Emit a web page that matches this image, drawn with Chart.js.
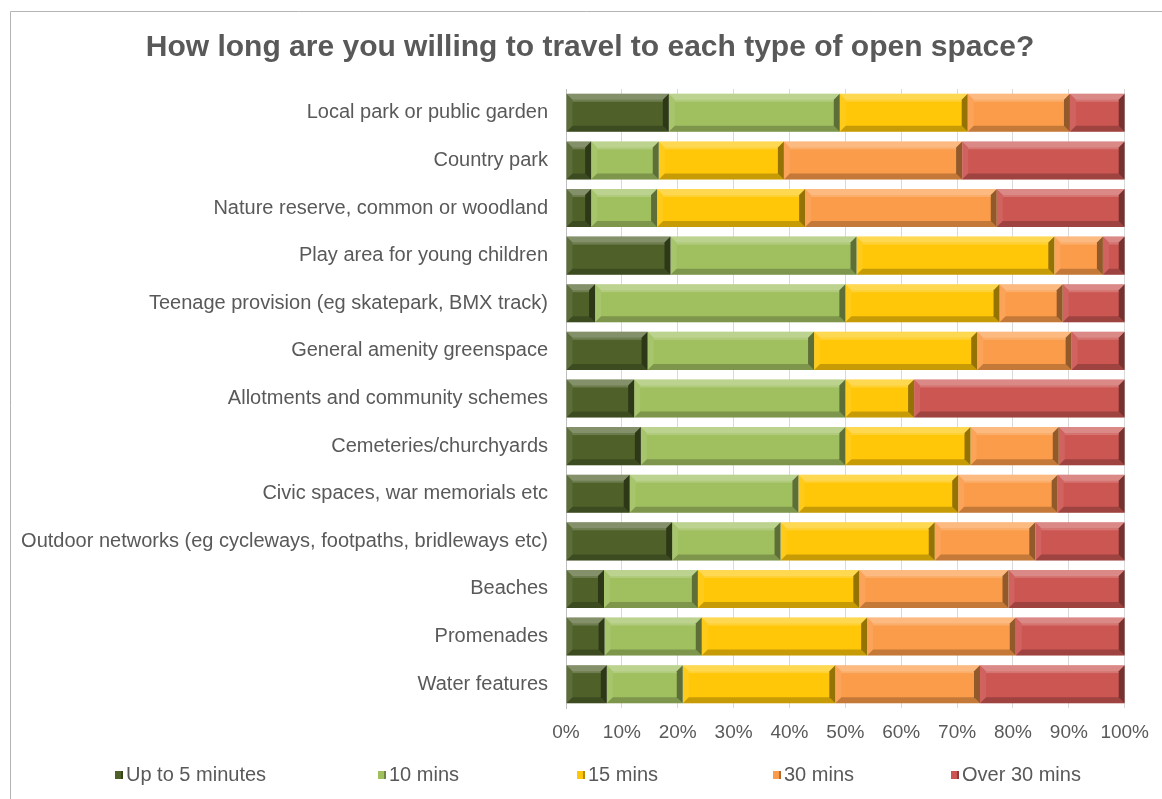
<!DOCTYPE html>
<html>
<head>
<meta charset="utf-8">
<script src="https://cdn.jsdelivr.net/npm/chart.js@4.4.0/dist/chart.umd.min.js"></script>
<style>
  body { margin: 0; background: #fff; }
  #wrap { position: absolute; left: 0; top: 0; width: 1162px; height: 799px; }
</style>
</head>
<body>
<div id="wrap"><canvas id="chart" width="1162" height="799"></canvas></div>
<script>
// categories, top to bottom
var categories = [
    "Local park or public garden",
    "Country park",
    "Nature reserve, common or woodland",
    "Play area for young children",
    "Teenage provision (eg skatepark, BMX track)",
    "General amenity greenspace",
    "Allotments and community schemes",
    "Cemeteries/churchyards",
    "Civic spaces, war memorials etc",
    "Outdoor networks (eg cycleways, footpaths, bridleways etc)",
    "Beaches",
    "Promenades",
    "Water features"
];
// percentages
var upTo5   = [18.4, 4.5, 4.5, 18.7, 5.2, 14.6, 12.2, 13.4, 11.4, 19.0, 6.8, 6.9, 7.3];
var mins10  = [30.6, 12.1, 11.8, 33.3, 44.8, 29.8, 37.8, 36.6, 30.2, 19.4, 16.8, 17.4, 13.6];
var mins15  = [22.9, 22.4, 26.5, 35.4, 27.6, 29.2, 12.3, 22.4, 28.6, 27.6, 28.9, 29.6, 27.3];
var mins30  = [18.3, 31.9, 34.3, 8.7, 11.3, 16.9, 0, 15.8, 17.8, 18.0, 26.7, 26.6, 25.9];
var over30  = [9.8, 29.1, 22.9, 3.9, 11.1, 9.5, 37.7, 11.8, 12.0, 16.0, 20.8, 19.5, 25.9];
var seriesNames = ["Up to 5 minutes", "10 mins", "15 mins", "30 mins", "Over 30 mins"];
var colors = ["#4f6129", "#a0c060", "#ffc708", "#fb9c4a", "#cc5652"];
var legendX = [115, 378, 577, 773, 951];
var chartTitle = 'How long are you willing to travel to each type of open space?';

var textGrey = '#595959';
var font = '"Liberation Sans", Arial, sans-serif';

// fake the bevelled look of the original bars
var bevelPlugin = {
    id: 'bevel',
    afterDatasetsDraw: function(chart) {
        var ctx = chart.ctx;
        chart.data.datasets.forEach(function(ds, i) {
            var meta = chart.getDatasetMeta(i);
            meta.data.forEach(function(bar) {
                var p = bar.getProps(['x', 'y', 'base', 'height'], true);
                var l = Math.min(p.x, p.base), r = Math.max(p.x, p.base);
                var t = p.y - p.height / 2, b = p.y + p.height / 2;
                if (r - l < 1) return;
                var s = Math.min(6, (r - l) / 2);
                function poly(pts, fill) {
                    ctx.beginPath();
                    ctx.moveTo(pts[0][0], pts[0][1]);
                    for (var k = 1; k < pts.length; k++) ctx.lineTo(pts[k][0], pts[k][1]);
                    ctx.closePath();
                    ctx.fillStyle = fill;
                    ctx.fill();
                }
                ctx.save();
                poly([[l, t], [r, t], [r - s, t + s], [l + s, t + s]], 'rgba(255,255,255,0.3)');
                poly([[l, t], [l + s, t + s], [l + s, b - s], [l, b]], 'rgba(255,255,255,0.08)');
                poly([[l, b], [l + s, b - s], [r - s, b - s], [r, b]], 'rgba(0,0,0,0.22)');
                poly([[r, t], [r, b], [r - s, b - s], [r - s, t + s]], 'rgba(0,0,0,0.42)');
                ctx.fillStyle = 'rgba(255,255,255,0.18)';
                ctx.fillRect(l + s, t + s, r - l - 2 * s, 2);
                ctx.restore();
            });
        });
    }
};

// frame, title + legend placed like the original
var framePlugin = {
    id: 'frame',
    beforeDraw: function(chart) {
        var ctx = chart.ctx;
        ctx.save();
        ctx.fillStyle = '#fff';
        ctx.fillRect(0, 0, chart.width, chart.height);
        ctx.strokeStyle = '#b4b4b4';
        ctx.lineWidth = 1;
        ctx.beginPath();
        ctx.moveTo(10.5, chart.height);
        ctx.lineTo(10.5, 11.5);
        ctx.lineTo(chart.width, 11.5);
        ctx.stroke();
        ctx.restore();
    },
    afterDraw: function(chart) {
        var ctx = chart.ctx;
        ctx.save();
        ctx.fillStyle = textGrey;
        ctx.textBaseline = 'middle';
        ctx.textAlign = 'center';
        ctx.font = 'bold 30px ' + font;
        ctx.fillText(chartTitle, 590, 48);

        ctx.font = '20px ' + font;
        ctx.textAlign = 'left';
        var y = 775;
        chart.data.datasets.forEach(function(ds, i) {
            var x = legendX[i];
            ctx.fillStyle = ds.backgroundColor;
            ctx.fillRect(x, y - 4, 8, 8);
            ctx.fillStyle = 'rgba(0,0,0,0.3)';
            ctx.fillRect(x + 6, y - 4, 2, 8);
            ctx.fillStyle = textGrey;
            ctx.fillText(ds.label, x + 11, y);
        });
        ctx.restore();
    }
};

var series = [upTo5, mins10, mins15, mins30, over30];
var datasets = series.map(function(vals, i) {
    return {
        label: seriesNames[i],
        data: vals,
        backgroundColor: colors[i],
        borderWidth: 0,
        barPercentage: 0.8,
        categoryPercentage: 1.0
    };
});

var chart = new Chart(document.getElementById('chart'), {
    type: 'bar',
    data: { labels: categories, datasets: datasets },
    plugins: [framePlugin, bevelPlugin],
    options: {
        indexAxis: 'y',
        responsive: false,
        animation: false,
        layout: { padding: { left: 0, right: 37, top: 89, bottom: 0 } },
        plugins: {
            legend: { display: false },
            tooltip: { enabled: false },
            title: { display: false }
        },
        scales: {
            x: {
                stacked: true,
                min: 0,
                max: 100,
                ticks: {
                    stepSize: 10,
                    color: textGrey,
                    font: { family: font, size: 19 },
                    padding: 13,
                    callback: function(v) { return v + '%'; }
                },
                grid: { color: '#d9d9d9', drawTicks: false },
                border: { display: false },
                afterFit: function(scale) { scale.height = 91; }
            },
            y: {
                stacked: true,
                ticks: {
                    color: textGrey,
                    font: { family: font, size: 20 },
                    padding: 10,
                    autoSkip: false
                },
                grid: { display: false },
                border: { display: true, color: '#bfbfbf' },
                afterFit: function(scale) { scale.width = 566; }
            }
        }
    }
});
</script>
</body>
</html>
